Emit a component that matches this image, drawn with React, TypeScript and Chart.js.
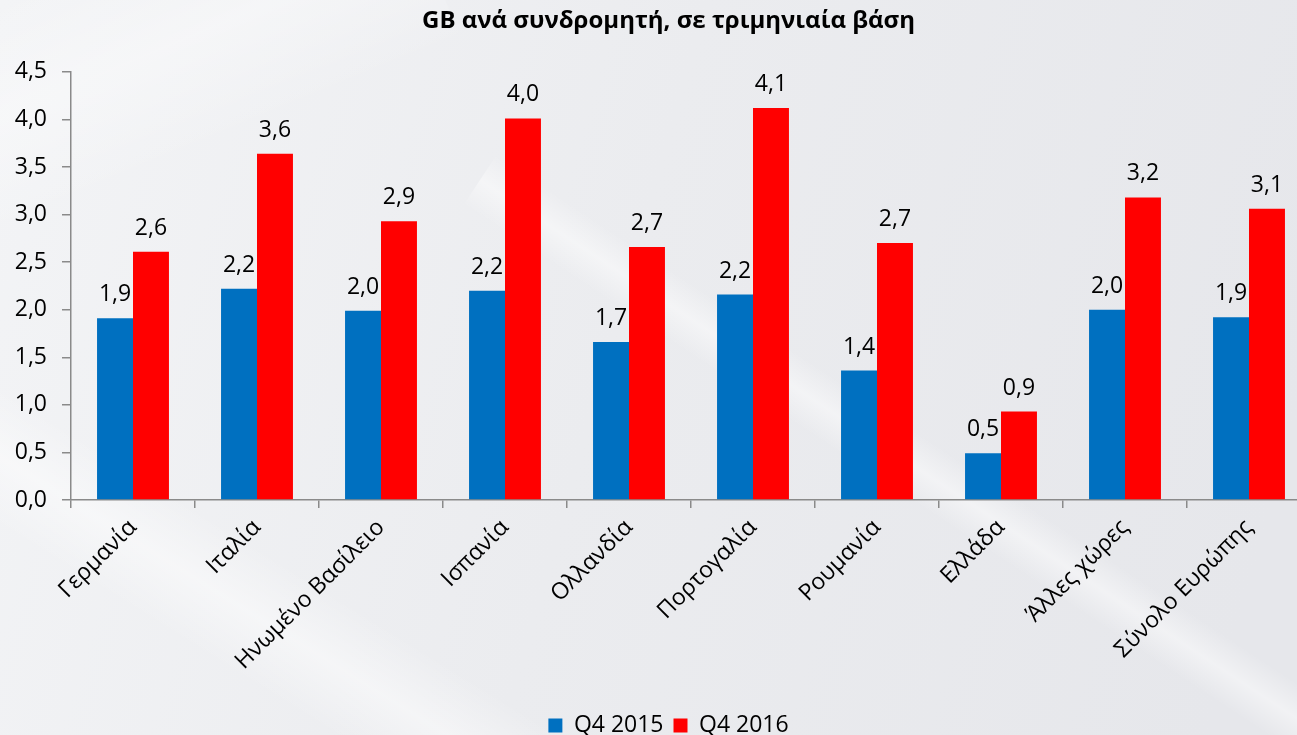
import React, { useEffect, useRef } from "react";
import { Chart, registerables } from "chart.js";

Chart.register(...registerables);

const titleText = "GB ανά συνδρομητή, σε τριμηνιαία βάση";
const categories = [
  "Γερμανία",
  "Ιταλία",
  "Ηνωμένο Βασίλειο",
  "Ισπανία",
  "Ολλανδία",
  "Πορτογαλία",
  "Ρουμανία",
  "Ελλάδα",
  "Άλλες χώρες",
  "Σύνολο Ευρώπης",
];
const seriesNames = ["Q4 2015", "Q4 2016"];
const q4_2015 = [1.91, 2.22, 1.99, 2.2, 1.66, 2.16, 1.36, 0.49, 2.0, 1.92];
const q4_2016 = [2.61, 3.64, 2.93, 4.01, 2.66, 4.12, 2.7, 0.93, 3.18, 3.06];
const yTicks = [0, 0.5, 1, 1.5, 2, 2.5, 3, 3.5, 4, 4.5];

const FONT = "'Open Sans', 'Noto Sans', sans-serif";
const fmt = (v: number) => v.toFixed(1).replace(".", ",");

const backgroundPlugin = {
  id: "bgPlugin",
  beforeDraw(chart: any) {
    const { ctx, width, height } = chart;
    ctx.save();
    const g = ctx.createLinearGradient(0, 0, width, height * 0.5);
    g.addColorStop(0, "#f3f4f6");
    g.addColorStop(0.5, "#ebecef");
    g.addColorStop(1, "#e6e7eb");
    ctx.fillStyle = g;
    ctx.fillRect(0, 0, width, height);
    const band = (x0: number, y0: number, x1: number, y1: number, w: number, a: number) => {
      const dx = x1 - x0;
      const dy = y1 - y0;
      const len = Math.hypot(dx, dy);
      const nx = -dy / len;
      const ny = dx / len;
      const mx = (x0 + x1) / 2;
      const my = (y0 + y1) / 2;
      const lg = ctx.createLinearGradient(mx - nx * w, my - ny * w, mx + nx * w, my + ny * w);
      lg.addColorStop(0, "rgba(255,255,255,0)");
      lg.addColorStop(0.5, `rgba(255,255,255,${a})`);
      lg.addColorStop(1, "rgba(255,255,255,0)");
      ctx.beginPath();
      ctx.moveTo(x0 - nx * w, y0 - ny * w);
      ctx.lineTo(x1 - nx * w, y1 - ny * w);
      ctx.lineTo(x1 + nx * w, y1 + ny * w);
      ctx.lineTo(x0 + nx * w, y0 + ny * w);
      ctx.closePath();
      ctx.fillStyle = lg;
      ctx.fill();
    };
    band(-60, 420, 520, 780, 60, 0.45);
    band(480, 180, 1360, 760, 30, 0.45);
    band(-80, 150, 420, -60, 110, 0.35);
    ctx.restore();
  },
};

const yAxisUnclipPlugin = {
  id: "yUnclip",
  afterLayout(chart: any) {
    const y = chart.scales.y;
    if (y) {
      y.left = 0;
      y.width = y.right;
    }
  },
};

const labelPlugin = {
  id: "valueLabels",
  afterDatasetsDraw(chart: any) {
    const { ctx } = chart;
    ctx.save();
    ctx.font = `23px ${FONT}`;
    ctx.fillStyle = "#000000";
    ctx.textAlign = "center";
    ctx.textBaseline = "bottom";
    chart.data.datasets.forEach((ds: any, di: number) => {
      const meta = chart.getDatasetMeta(di);
      meta.data.forEach((el: any, i: number) => {
        ctx.fillText(fmt(ds.data[i]), el.x, el.y - 12);
      });
    });
    ctx.restore();
  },
};

export default function App() {
  const ref = useRef<HTMLCanvasElement | null>(null);

  useEffect(() => {
    if (!ref.current) return;
    const chart = new Chart(ref.current, {
      type: "bar",
      data: {
        labels: categories,
        datasets: [
          {
            label: seriesNames[0],
            data: q4_2015,
            backgroundColor: "#0070C0",
            borderWidth: 0,
            categoryPercentage: 0.58,
            barPercentage: 1.0,
          },
          {
            label: seriesNames[1],
            data: q4_2016,
            backgroundColor: "#FF0000",
            borderWidth: 0,
            categoryPercentage: 0.58,
            barPercentage: 1.0,
          },
        ],
      },
      options: {
        responsive: false,
        animation: false,
        devicePixelRatio: 1,
        layout: { padding: { left: 26, right: 0, top: 0, bottom: -12 } },
        plugins: {
          title: {
            display: true,
            text: titleText,
            color: "#000000",
            font: { family: FONT, size: 24, weight: "bold" },
            padding: { top: 7, bottom: 36 },
          },
          legend: {
            position: "bottom",
            labels: {
              color: "#000000",
              font: { family: FONT, size: 23 },
              boxWidth: 14,
              boxHeight: 14,
              padding: 10,
            },
          },
          tooltip: { enabled: false },
        },
        scales: {
          x: {
            grid: {
              display: true,
              drawOnChartArea: false,
              drawTicks: true,
              tickLength: 8,
              color: "#8a8a8a",
              lineWidth: 1.5,
            },
            border: { display: true, color: "#8a8a8a", width: 1.5 },
            ticks: {
              color: "#000000",
              font: { family: FONT, size: 23 },
              minRotation: 45,
              maxRotation: 45,
              autoSkip: false,
              padding: 6,
            },
            afterFit: (scale: any) => {
              scale.height = 204;
            },
          },
          y: {
            min: 0,
            max: 4.5,
            afterBuildTicks: (scale: any) => {
              scale.ticks = yTicks.map((v) => ({ value: v }));
            },
            grid: {
              display: true,
              drawOnChartArea: false,
              drawTicks: true,
              tickLength: 9,
              color: "#8a8a8a",
              lineWidth: 1.5,
            },
            border: { display: true, color: "#8a8a8a", width: 1.5 },
            ticks: {
              color: "#000000",
              font: { family: FONT, size: 23 },
              padding: 15,
              callback: (v: any) => fmt(Number(v)),
            },
            afterFit: (scale: any) => {
              scale.width = 45;
            },
          },
        },
      },
      plugins: [backgroundPlugin, yAxisUnclipPlugin, labelPlugin],
    });
    return () => chart.destroy();
  }, []);

  return (
    <div
      style={{
        position: "absolute",
        left: 0,
        top: 0,
        width: 1297,
        height: 735,
        overflow: "hidden",
      }}
    >
      <canvas ref={ref} width={1311} height={735} style={{ display: "block" }} />
    </div>
  );
}
